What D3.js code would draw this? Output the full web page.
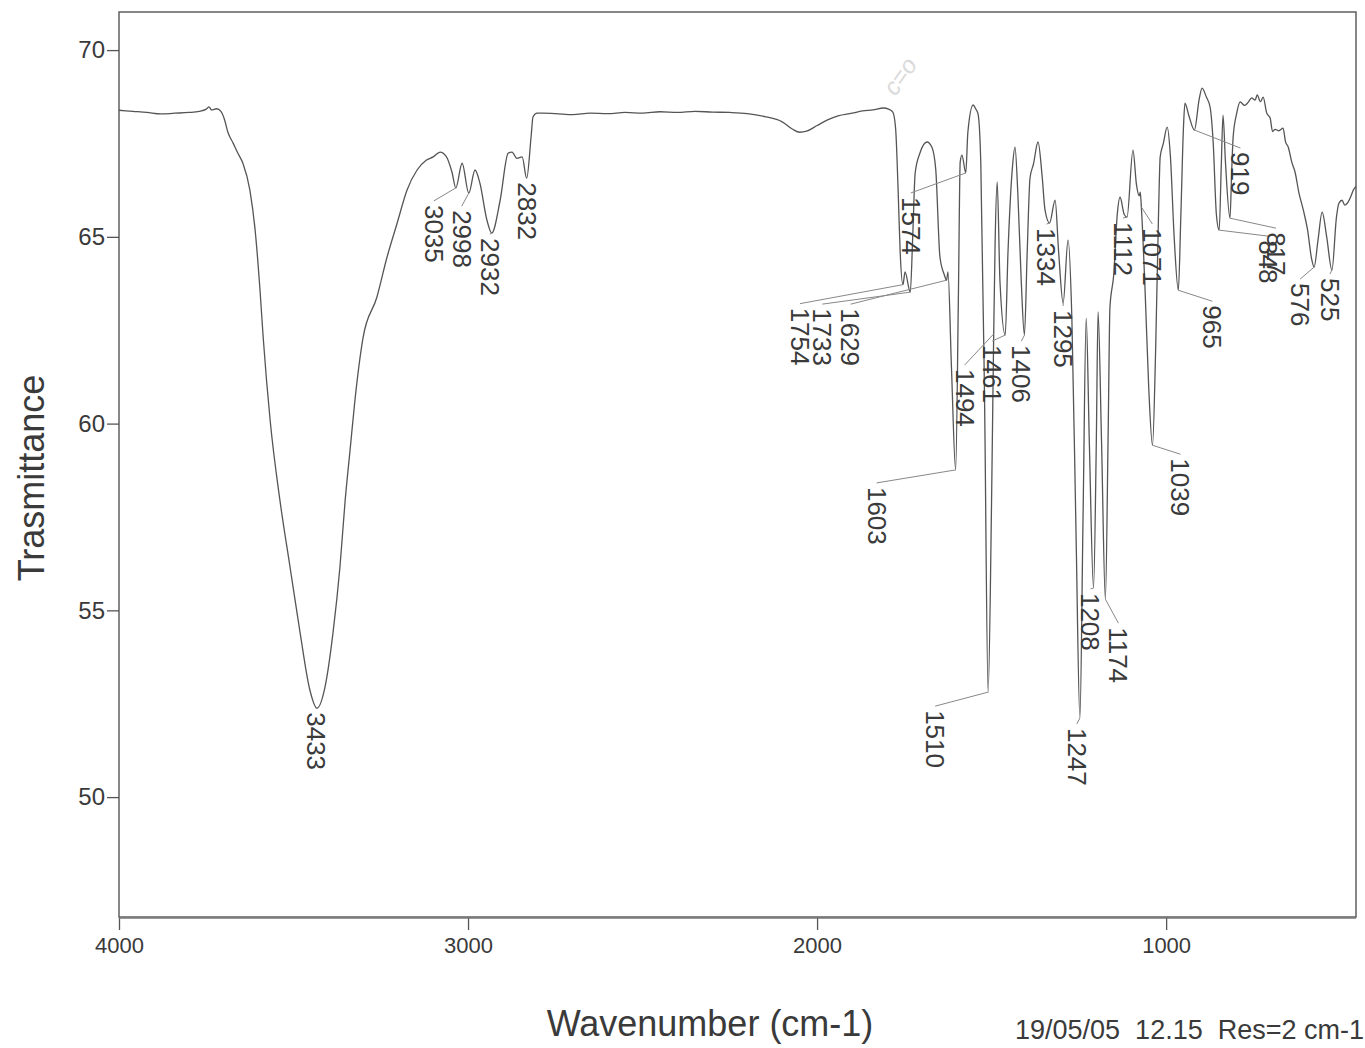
<!DOCTYPE html>
<html>
<head>
<meta charset="utf-8">
<script src="https://cdn.jsdelivr.net/npm/d3@7"></script>
<style>
  body { margin: 0; background: #fff; }
  svg { display: block; font-family: "Liberation Sans", Arial, sans-serif; }
  .axis text { fill: #3a3a3a; }
  .axis line { stroke: #555; stroke-width: 1.3; }
  .peak { fill: #3a3a3a; font-size: 26px; }
</style>
</head>
<body>
<div class="chart"></div>
<script>
// spectrum
var wavenumber = [
  4000, 3960, 3920, 3880, 3840, 3800, 3770, 3750, 3742, 3735, 3720, 3708, 3698, 3688, 3673,
  3660, 3645, 3625, 3610, 3596, 3587, 3567, 3539, 3510, 3481, 3453, 3433, 3410, 3387, 3367,
  3352, 3338, 3324, 3301, 3261, 3232, 3203, 3175, 3146, 3120, 3100, 3080, 3063, 3046, 3035,
  3017, 2998, 2980, 2966, 2946, 2932, 2908, 2885, 2874, 2860, 2845, 2832, 2819, 2814, 2802,
  2785, 2750, 2700, 2650, 2600, 2550, 2500, 2450, 2400, 2350, 2300, 2250, 2200, 2150, 2100,
  2070, 2050, 2030, 2000, 1970, 1940, 1900, 1870, 1840, 1810, 1795, 1783, 1775, 1768, 1762,
  1754, 1748, 1733, 1726, 1719, 1705, 1685, 1671, 1660, 1648, 1636, 1629, 1625, 1615, 1603,
  1595, 1590, 1585, 1574, 1568, 1553, 1545, 1539, 1531, 1520, 1510, 1500, 1494, 1490, 1484,
  1476, 1461, 1453, 1440, 1433, 1425, 1415, 1406, 1398, 1390, 1380, 1367, 1355, 1347, 1334,
  1318, 1308, 1295, 1281, 1270, 1258, 1247, 1238, 1229, 1220, 1208, 1200, 1195, 1185, 1174,
  1166, 1161, 1150, 1140, 1132, 1120, 1112, 1095, 1085, 1077, 1074, 1071, 1060, 1050, 1039,
  1030, 1022, 1017, 1008, 997, 988, 977, 965, 958, 950, 946, 935, 919, 905, 897,
  885, 874, 865, 856, 848, 842, 837, 830, 817, 812, 808, 798, 788, 775, 765,
  755, 745, 739, 730, 722, 712, 702, 695, 688, 677, 665, 658, 650, 640, 630,
  620, 607, 595, 583, 576, 565, 553, 540, 525, 512, 505, 496, 488, 481, 470,
  464, 456
];
var transmittance = [
  68.39, 68.36, 68.33, 68.29, 68.31, 68.33, 68.36, 68.42, 68.48, 68.40, 68.43, 68.36, 68.15, 67.80, 67.51,
  67.25, 66.97, 66.25, 65.18, 63.57, 62.32, 60.09, 57.95, 56.16, 54.39, 52.86, 52.38, 52.94, 54.39, 56.16,
  57.95, 59.29, 60.63, 62.29, 63.39, 64.46, 65.37, 66.25, 66.79, 67.05, 67.14, 67.27, 67.16, 66.73, 66.31,
  66.97, 66.17, 66.79, 66.44, 65.45, 65.10, 65.98, 67.24, 67.27, 67.10, 67.14, 66.57, 67.72, 68.21, 68.31,
  68.31, 68.30, 68.27, 68.31, 68.30, 68.33, 68.31, 68.35, 68.33, 68.36, 68.34, 68.33, 68.30, 68.22, 68.08,
  67.88, 67.80, 67.83, 67.98, 68.13, 68.24, 68.31, 68.37, 68.40, 68.45, 68.42, 68.34, 67.90, 66.30, 64.60,
  63.72, 64.06, 63.52, 65.00, 66.71, 67.25, 67.54, 67.40, 66.80, 64.46, 64.00, 63.84, 64.06, 61.50, 58.76,
  63.50, 67.00, 67.19, 66.71, 67.80, 68.53, 68.42, 68.30, 67.00, 60.50, 52.81, 58.00, 62.40, 64.80, 66.47,
  63.80, 62.37, 64.60, 66.90, 67.40, 66.20, 63.80, 62.37, 64.60, 66.57, 66.95, 67.54, 66.60, 65.72, 65.37,
  65.98, 64.60, 63.23, 64.91, 62.80, 57.00, 52.12, 57.50, 62.82, 59.50, 55.60, 59.50, 62.99, 59.50, 55.30,
  59.80, 63.10, 64.00, 65.60, 66.06, 65.60, 65.53, 67.32, 66.40, 66.10, 66.20, 65.80, 63.50, 61.00, 59.42,
  62.00, 65.50, 67.14, 67.50, 67.94, 67.20, 65.00, 63.57, 65.50, 68.00, 68.58, 68.25, 67.86, 68.70, 68.98,
  68.75, 68.47, 67.50, 65.60, 65.18, 66.90, 68.26, 67.00, 65.50, 66.80, 67.67, 68.30, 68.61, 68.52, 68.60,
  68.72, 68.66, 68.80, 68.62, 68.74, 68.32, 68.18, 67.82, 67.88, 67.84, 67.91, 67.55, 67.40, 67.00, 66.71,
  66.20, 65.72, 65.20, 64.40, 64.19, 64.90, 65.66, 65.00, 64.11, 65.53, 65.90, 65.98, 65.85, 65.90, 66.10,
  66.25, 66.35
];

// labelled peaks
var peakWn = [3433, 3035, 2998, 2932, 2832, 1754, 1733, 1629, 1603, 1574, 1510, 1494, 1461, 1406,
              1334, 1295, 1247, 1208, 1174, 1112, 1071, 1039, 965, 919, 848, 817, 576, 525];

var xTicks = [4000, 3000, 2000, 1000];
var yTicks = [50, 55, 60, 65, 70];

// where each peak label sits, relative to the peak (px)
var labelShift = {
  3433: [-1, 4],   3035: [-22, 17], 2998: [-7, 17],  2932: [-2, 5],   2832: [0, 4],
  1754: [-103, 23], 1733: [-88, 16], 1629: [-96, 28], 1603: [-79, 17], 1574: [-55, 24],
  1510: [-53, 18], 1494: [-29, 35], 1461: [-13, 10], 1406: [-3, 10],  1334: [-3, 5],
  1295: [0, 7],    1247: [-3, 10],  1208: [-3, 5],   1174: [13, 28],  1112: [-4, 5],
  1071: [11, 21],  1039: [28, 13],  965: [34, 15],   919: [46, 22],   848: [49, 10],
  817: [46, 14],   576: [-14, 16],  525: [-2, 8]
};

var W = 1365, H = 1048;
var margin = { left: 119, right: 9, top: 12, bottom: 131 },
    width = W - margin.left - margin.right,
    height = H - margin.top - margin.bottom;

var svg = d3.select(".chart")
  .append("svg")
    .attr("width", W)
    .attr("height", H);

var g = svg.append("g")
    .attr("transform", "translate(" + margin.left + "," + margin.top + ")");

var x = d3.scaleLinear()
    .domain([4000, 456])
    .range([0, width]);
var y = d3.scaleLinear()
    .domain([46.79, 71.02])
    .range([height, 0]);

var spectrum = wavenumber.map(function(w, i) {
  return { wn: w, t: transmittance[i] };
});
var tAt = {};
spectrum.forEach(function(d) { tAt[d.wn] = d.t; });

// axes
var yAxisCall = d3.axisLeft(y)
    .tickValues(yTicks)
    .tickSize(12)
    .tickPadding(2);
g.append("g")
    .attr("class", "axis y")
    .call(yAxisCall)
    .call(function(s) { s.select(".domain").remove(); })
    .selectAll("text")
      .attr("font-size", "24px");

var xAxisCall = d3.axisBottom(x)
    .tickValues(xTicks)
    .tickSize(13)
    .tickPadding(7)
    .tickFormat(function(d) { return d; });
g.append("g")
    .attr("class", "axis x")
    .attr("transform", "translate(0," + height + ")")
    .call(xAxisCall)
    .call(function(s) { s.select(".domain").remove(); })
    .selectAll("text")
      .attr("font-size", "22px");

// frame
g.append("rect")
    .attr("width", width)
    .attr("height", height)
    .attr("fill", "none")
    .attr("stroke", "#555")
    .attr("stroke-width", 1.4);
g.append("line")
    .attr("x1", 0).attr("x2", width)
    .attr("y1", height + 1).attr("y2", height + 1)
    .attr("stroke", "#777")
    .attr("stroke-width", 1.5);

// faint pencil note
g.append("text")
    .attr("transform", "translate(" + (x(1775)) + ",85) rotate(-55)")
    .attr("font-size", "24px")
    .attr("font-style", "italic")
    .attr("fill", "#dadada")
    .text("c=o");

// spectrum line
var line = d3.line()
    .x(function(d) { return x(d.wn); })
    .y(function(d) { return y(d.t); })
    .curve(d3.curveMonotoneX);

g.append("path")
    .datum(spectrum)
    .attr("fill", "none")
    .attr("stroke", "#555")
    .attr("stroke-width", 1.3)
    .attr("stroke-linejoin", "round")
    .attr("d", line);

// peak labels + leader lines
var peaks = g.append("g");
peakWn.forEach(function(w) {
  var px = x(w), py = y(tAt[w]);
  var s = labelShift[w];
  var lx = px + s[0], ly = py + s[1];

  peaks.append("line")
      .attr("x1", px).attr("y1", py)
      .attr("x2", lx).attr("y2", ly - 4)
      .attr("stroke", "#888")
      .attr("stroke-width", 1);

  peaks.append("text")
      .attr("class", "peak")
      .attr("transform", "translate(" + lx + "," + ly + ") rotate(90)")
      .attr("dy", "0.35em")
      .text(w);
});

// titles
svg.append("text")
    .attr("x", 710)
    .attr("y", 1036)
    .attr("text-anchor", "middle")
    .attr("font-size", "36px")
    .attr("fill", "#3a3a3a")
    .text("Wavenumber (cm-1)");

svg.append("text")
    .attr("transform", "translate(44,478) rotate(-90)")
    .attr("text-anchor", "middle")
    .attr("font-size", "36px")
    .attr("fill", "#3a3a3a")
    .text("Trasmittance");

svg.append("text")
    .attr("x", 1364)
    .attr("y", 1039)
    .attr("text-anchor", "end")
    .attr("font-size", "27px")
    .attr("fill", "#3a3a3a")
    .attr("xml:space", "preserve")
    .style("white-space", "pre")
    .text("19/05/05  12.15  Res=2 cm-1");
</script>
</body>
</html>
